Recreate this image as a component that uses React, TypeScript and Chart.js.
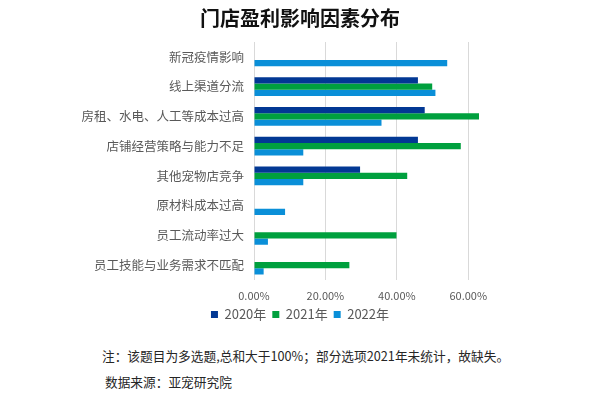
import React, { useEffect, useRef } from "react";
import { Chart, registerables } from "chart.js";

Chart.register(...registerables);

const categories = [
  "新冠疫情影响",
  "线上渠道分流",
  "房租、水电、人工等成本过高",
  "店铺经营策略与能力不足",
  "其他宠物店竞争",
  "原材料成本过高",
  "员工流动率过大",
  "员工技能与业务需求不匹配",
];
const series2020 = [null, 45.9, 47.8, 45.9, 29.7, null, null, null];
const series2021 = [null, 49.9, 63.0, 57.9, 42.9, null, 39.9, 26.7];
const series2022 = [54.1, 50.8, 35.7, 13.8, 13.8, 8.7, 3.9, 2.7];
const seriesNames = ["2020年", "2021年", "2022年"];
const titleText = "门店盈利影响因素分布";
const noteText = "注：该题目为多选题,总和大于100%；部分选项2021年未统计，故缺失。";
const sourceText = "数据来源：亚宠研究院";

const FONT = "'Noto Sans CJK SC', 'Noto Sans', sans-serif";

export default function App() {
  const ref = useRef<HTMLCanvasElement | null>(null);
  useEffect(() => {
    if (!ref.current) return;
    const chart = new Chart(ref.current, {
      type: "bar",
      data: {
        labels: categories,
        datasets: [
          { label: seriesNames[0], data: series2020, backgroundColor: "#023894" },
          { label: seriesNames[1], data: series2021, backgroundColor: "#00A03E" },
          { label: seriesNames[2], data: series2022, backgroundColor: "#0A8FD8" },
        ],
      },
      options: {
        indexAxis: "y",
        responsive: false,
        animation: false,
        devicePixelRatio: 1,
        datasets: { bar: { categoryPercentage: 0.63, barPercentage: 1 } },
        layout: { padding: { left: 0, right: 0, top: 0, bottom: 6 } },
        scales: {
          x: {
            min: 0,
            max: 70,
            ticks: {
              stepSize: 20,
              padding: 9,
              color: "#595959",
              font: { family: FONT, size: 11 },
              callback: (v: any) => Number(v).toFixed(2) + "%",
            },
            afterBuildTicks: (s: any) => {
              s.ticks = s.ticks.filter((t: any) => t.value <= 60);
            },
            afterFit: (s: any) => {
              s.height = 22;
            },
            grid: { color: "#D9D9D9", drawTicks: false, lineWidth: 1 },
            border: { display: false },
          },
          y: {
            ticks: {
              padding: 10,
              color: "#595959",
              font: { family: FONT, size: 12.5 },
            },
            grid: { display: false, drawTicks: false },
            border: { display: false },
            afterFit: (s: any) => {
              s.width = 254;
            },
          },
          yR: {
            type: "category",
            position: "right",
            ticks: { display: false },
            grid: { display: false, drawTicks: false },
            border: { display: false },
            afterFit: (s: any) => {
              s.width = 96;
            },
          },
        },
        plugins: {
          title: {
            display: true,
            text: titleText,
            color: "#111111",
            font: { family: FONT, size: 20, weight: "bold" },
            padding: { top: 6, bottom: 12 },
          },
          legend: {
            position: "bottom",
            labels: {
              boxWidth: 7,
              boxHeight: 7,
              padding: 6,
              color: "#595959",
              font: { family: FONT, size: 13 },
            },
          },
          tooltip: { enabled: false },
        },
      } as any,
    });
    return () => chart.destroy();
  }, []);

  return (
    <div>
      <div style={{ position: "absolute", left: 0, top: 0, width: 600, height: 337 }}>
        <canvas ref={ref} width={600} height={337} />
      </div>
      <div
        style={{
          position: "absolute",
          left: 102,
          top: 348,
          fontFamily: FONT,
          fontSize: 12.7,
          lineHeight: "16px",
          color: "#262626",
          whiteSpace: "nowrap",
        }}
      >
        {noteText}
      </div>
      <div
        style={{
          position: "absolute",
          left: 105,
          top: 374,
          fontFamily: FONT,
          fontSize: 12.7,
          lineHeight: "16px",
          color: "#262626",
          whiteSpace: "nowrap",
        }}
      >
        {sourceText}
      </div>
    </div>
  );
}
